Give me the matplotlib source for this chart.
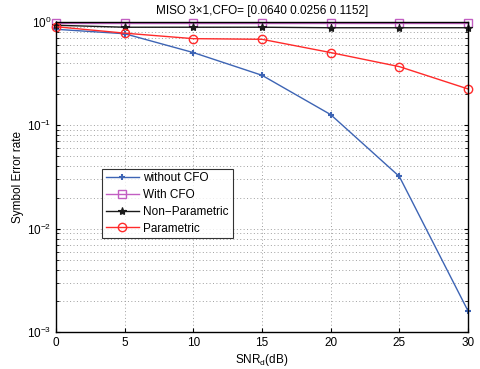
import matplotlib
matplotlib.use("Agg")
import matplotlib.pyplot as plt
from matplotlib.ticker import LogLocator, NullFormatter

plt.rcParams['font.family'] = ['Liberation Sans', 'DejaVu Sans']
plt.rcParams['mathtext.fontset'] = 'custom'
plt.rcParams['mathtext.rm'] = 'Liberation Sans'
plt.rcParams['mathtext.it'] = 'Liberation Sans'

snr = [0, 5, 10, 15, 20, 25, 30]
without_cfo = [0.85, 0.77, 0.506, 0.305, 0.127, 0.032, 0.0016]
with_cfo = [0.97, 0.97, 0.97, 0.97, 0.97, 0.97, 0.97]
non_parametric = [0.93, 0.89, 0.89, 0.89, 0.88, 0.88, 0.88]
parametric = [0.90, 0.78, 0.69, 0.68, 0.506, 0.37, 0.225]

fs = 8.5
fig = plt.figure(figsize=(4.81, 3.69), dpi=100)
ax = fig.add_axes([56/481, 1-332/369, 412/481, 310/369])

ax.semilogy(snr, without_cfo, '-+', color='#3d64b4', lw=1, ms=5, mew=1.5, label='without CFO', clip_on=False, zorder=3)
ax.semilogy(snr, with_cfo, '-s', color='#c25ec2', lw=1, ms=5.5, mfc='none', mew=1, label='With CFO', clip_on=False, zorder=3)
ax.semilogy(snr, non_parametric, '-*', color='#1a1a1a', lw=1, ms=6, mew=0.8, label='Non\u2212Parametric', clip_on=False, zorder=3)
ax.semilogy(snr, parametric, '-o', color='#ff2a2a', lw=1, ms=6, mfc='none', mew=1, label='Parametric', clip_on=False, zorder=3)

ax.set_xlim(0, 30)
ax.set_ylim(1e-3, 1)
ax.set_xticks([0, 5, 10, 15, 20, 25, 30])
ax.yaxis.set_major_locator(LogLocator(base=10, numticks=10))
ax.yaxis.set_minor_locator(LogLocator(base=10, subs=range(2, 10), numticks=10))
ax.yaxis.set_minor_formatter(NullFormatter())
ax.tick_params(direction='in', which='both', labelsize=fs, top=True, right=True, length=3)
ax.tick_params(which='minor', length=2)
gkw = dict(linestyle=(0, (1, 2.5)), color='#a0a0a0', lw=0.7)
ax.grid(True, which='major', axis='x', **gkw)
ax.grid(True, which='both', axis='y', **gkw)
for s in ax.spines.values():
    s.set_linewidth(1)
    s.set_zorder(4)

ax.set_title('MISO 3\u00d71,CFO= [0.0640 0.0256 0.1152]', fontsize=fs, pad=6)
ax.set_xlabel('SNR$_d$(dB)', fontsize=fs, labelpad=2)
ax.set_ylabel('Symbol Error rate', fontsize=fs, labelpad=2)

leg = ax.legend(loc='lower left', bbox_to_anchor=(0.112, 0.303, 0.318, 0.223), mode='expand',
                fontsize=fs, frameon=True, fancybox=False, edgecolor='black',
                borderaxespad=0, handlelength=2.8, handletextpad=0.4, labelspacing=0.4,
                borderpad=0.3)
leg.get_frame().set_linewidth(0.8)
leg.set_zorder(5)

fig.savefig('out.png', dpi=100)
